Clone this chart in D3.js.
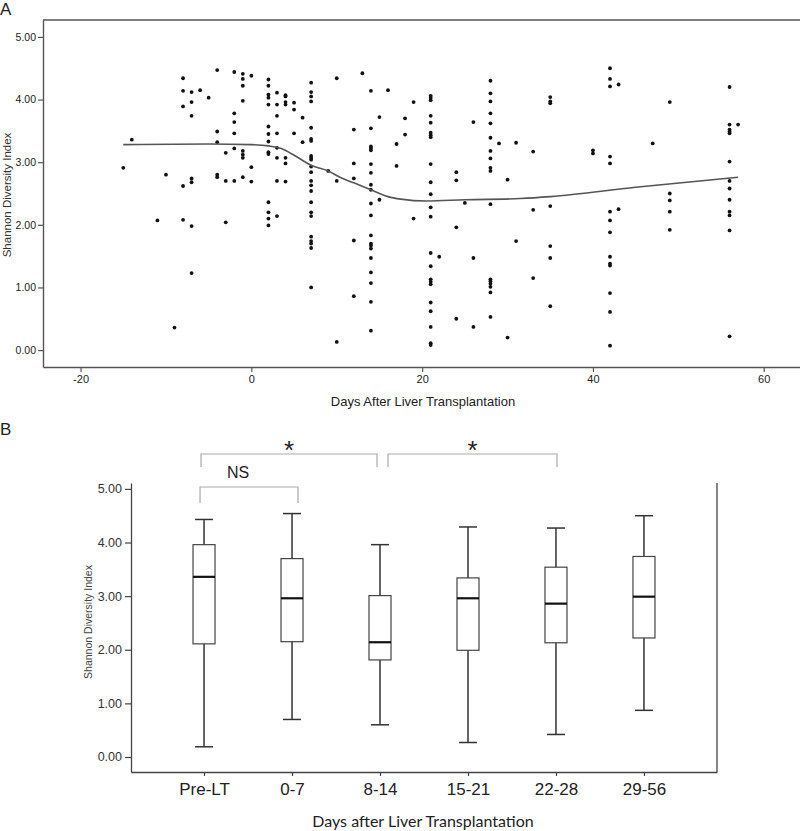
<!DOCTYPE html>
<html><head><meta charset="utf-8">
<script src="https://cdn.jsdelivr.net/npm/d3@7/dist/d3.min.js"></script>
<style>body{margin:0;background:#fff} svg{display:block}</style>
</head><body>
<svg id="c" width="800" height="831"></svg>
<script>
// ---------- Panel A data ----------
const scatterDays = [-15,-14,-11,-10,-9,-8,-7,-6,-5,-4,-3,-2,-1,0,2,3,4,5,6,7,9,10,12,13,14,15,16,17,18,19,21,22,24,25,26,28,29,30,31,33,35,40,42,43,47,49,56,57];
const scatterValues = [
  [2.91],[3.36],[2.07],[2.80],[0.36],
  [4.34,4.14,3.89,2.62,2.08],
  [4.12,3.96,3.74,2.74,2.68,1.98,1.23],
  [4.15],[4.03],
  [4.47,3.49,3.32,2.80,2.76],
  [3.15,2.70,2.04],
  [4.44,3.78,3.64,3.46,3.22,2.70],
  [4.41,4.33,4.22,3.98,3.18,3.12,3.07,2.76],
  [4.38,2.92,2.69],
  [4.32,4.22,4.08,4.03,3.92,3.57,3.45,3.33,3.16,3.13,2.36,2.20,2.10,1.99],
  [4.11,3.92,3.74,3.46,3.23,3.07,2.70,2.14],
  [4.07,4.05,3.96,3.92,3.07,2.98,2.69],
  [3.95,3.84,3.46],
  [3.71,3.32],
  [4.27,4.12,4.05,3.97,3.55,3.37,3.34,3.10,3.07,3.04,2.93,2.84,2.70,2.63,2.54,2.36,2.20,2.14,1.81,1.74,1.70,1.63,1.00],
  [2.86],
  [4.34,2.70,0.13],
  [3.52,2.98,2.74,1.75,0.86],
  [4.42],
  [4.14,3.54,3.25,3.22,3.19,2.97,2.83,2.64,2.56,2.34,2.15,1.83,1.70,1.67,1.62,1.47,1.24,1.07,0.77,0.31],
  [3.72,2.40],
  [4.15],
  [3.29,2.94],
  [3.70,3.44],
  [3.96,2.10],
  [4.06,4.03,3.99,3.74,3.63,3.47,3.43,3.40,2.97,2.68,2.49,2.28,2.13,1.55,1.34,1.13,1.09,1.05,0.76,0.62,0.37,0.11,0.08],
  [1.49],
  [2.84,2.71,1.96,0.50],
  [2.35],
  [3.64,1.47,0.37],
  [4.30,4.10,3.97,3.78,3.62,3.39,3.18,3.06,2.91,2.86,2.33,1.13,1.10,1.06,1.01,0.92,0.53],
  [3.30],
  [2.72,0.20],
  [3.31,1.74],
  [3.17,2.24,1.15],
  [4.04,3.97,3.94,2.30,1.66,1.47,0.70],
  [3.19,3.14],
  [4.50,4.33,4.21,3.09,2.98,2.21,2.07,1.88,1.49,1.38,1.35,0.91,0.61,0.07],
  [4.24,2.25],
  [3.30],
  [3.96,2.50,2.39,2.21,1.92],
  [4.20,3.60,3.52,3.49,3.46,3.01,2.70,2.58,2.40,2.21,2.15,1.91,0.22],
  [3.60]
];
const loessDays   = [-15,-5,0,2,3.5,5.5,7,9,10.5,12,14,16,17.5,20.5,25,31.5,35,45,57];
const loessValues = [3.28,3.29,3.28,3.26,3.22,3.07,2.95,2.86,2.75,2.67,2.56,2.45,2.41,2.38,2.40,2.42,2.45,2.60,2.76];
const xTicksA = [-20,0,20,40,60];
const yTicksA = [0,1,2,3,4,5];

// ---------- Panel B data ----------
const boxCategories   = ["Pre-LT","0-7","8-14","15-21","22-28","29-56"];
const boxLowerWhisker = [0.19,0.70,0.60,0.27,0.42,0.87];
const boxQ1           = [2.11,2.15,1.81,1.99,2.13,2.22];
const boxMedian       = [3.36,2.96,2.14,2.96,2.86,2.99];
const boxQ3           = [3.96,3.70,3.01,3.34,3.54,3.74];
const boxUpperWhisker = [4.43,4.54,3.96,4.29,4.27,4.50];
const yTicksB = [0,1,2,3,4,5];
const compFrom   = ["Pre-LT","8-14","Pre-LT"];
const compTo     = ["8-14","22-28","0-7"];
const compLabels = ["*","*","NS"];

// ---------- layout ----------
const svg = d3.select("#c");
const narrow = "'Liberation Sans Narrow','Arial Narrow','Liberation Sans',sans-serif";
const sans = "'Liberation Sans',Arial,sans-serif";
const axisCol = "#444";
const hyphenFmt = d => String(d);

// Panel A
const xA = d3.scaleLinear().domain([-24.4, 64.6]).range([43, 803]);
const yA = d3.scaleLinear().domain([-0.27, 5.27]).range([367, 20]);
const gA = svg.append("g");

svg.append("text").attr("x",0).attr("y",15).attr("font-family",sans).attr("font-size",17).attr("fill","#222").text("A");

gA.append("line").attr("x1",xA.range()[0]).attr("x2",800).attr("y1",yA.range()[1]).attr("y2",yA.range()[1])
  .attr("stroke","#555").attr("stroke-width",1.4);

const axA_x = gA.append("g").attr("transform",`translate(0,${yA.range()[0]})`)
  .call(d3.axisBottom(xA).tickValues(xTicksA).tickSize(5).tickSizeOuter(0).tickFormat(hyphenFmt));
const axA_y = gA.append("g").attr("transform",`translate(${xA.range()[0]},0)`)
  .call(d3.axisLeft(yA).tickValues(yTicksA).tickSize(5).tickSizeOuter(0).tickFormat(d3.format(".2f")));
[axA_x, axA_y].forEach(a=>{
  a.select(".domain").attr("stroke","#555").attr("stroke-width",1.4);
  a.selectAll(".tick line").attr("stroke","#555").attr("stroke-width",1.2);
  a.selectAll(".tick text").attr("font-family",narrow).attr("font-size",11).attr("fill","#222");
});
axA_y.selectAll(".tick text").attr("x",-7).attr("font-size",10.5);
axA_x.selectAll(".tick text").attr("y",8);

gA.append("text").attr("x",423).attr("y",406).attr("text-anchor","middle")
  .attr("font-family",narrow).attr("font-size",13).attr("fill","#222").text("Days After Liver Transplantation");
gA.append("text").attr("transform","translate(11,195) rotate(-90)").attr("text-anchor","middle")
  .attr("font-family",sans).attr("font-size",11.5).attr("fill","#333").text("Shannon Diversity Index");

const pts = [];
scatterDays.forEach((d,i)=>scatterValues[i].forEach(v=>pts.push([d,v])));
gA.append("g").selectAll("circle").data(pts).join("circle")
  .attr("cx",d=>xA(d[0])).attr("cy",d=>yA(d[1])).attr("r",1.9).attr("fill","#111");

const loessPts = loessDays.map((d,i)=>[d, loessValues[i]]);
gA.append("path").datum(loessPts)
  .attr("d", d3.line().x(d=>xA(d[0])).y(d=>yA(d[1])).curve(d3.curveMonotoneX))
  .attr("fill","none").attr("stroke","#555").attr("stroke-width",1.6);

// Panel B
svg.append("text").attr("x",0).attr("y",435).attr("font-family",sans).attr("font-size",17).attr("fill","#222").text("B");
const xB = d3.scalePoint().domain(boxCategories).range([131, 717]).padding(0.83);
const yB = d3.scaleLinear().domain([-0.28, 5.11]).range([772, 483]);
const gB = svg.append("g");

const axB_x = gB.append("g").attr("transform",`translate(0,${yB.range()[0]})`)
  .call(d3.axisBottom(xB).tickSize(4).tickSizeOuter(0));
const axB_y = gB.append("g").attr("transform",`translate(${xB.range()[0]},0)`)
  .call(d3.axisLeft(yB).tickValues(yTicksB).tickSize(6).tickSizeOuter(0).tickFormat(d3.format(".2f")));
[axB_x, axB_y].forEach(a=>{
  a.select(".domain").attr("stroke",axisCol).attr("stroke-width",1.3);
  a.selectAll(".tick line").attr("stroke",axisCol).attr("stroke-width",1.2);
});
axB_y.selectAll(".tick text").attr("font-family",sans).attr("font-size",12.5).attr("fill","#333").attr("x",-9);
axB_x.selectAll(".tick text").attr("font-family",sans).attr("font-size",17).attr("fill","#222").attr("y",11);
gB.append("line").attr("x1",xB.range()[1]).attr("x2",xB.range()[1]).attr("y1",yB.range()[1]).attr("y2",yB.range()[0])
  .attr("stroke",axisCol).attr("stroke-width",1.3);

gB.append("text").attr("transform","translate(92,622) rotate(-90)").attr("text-anchor","middle")
  .attr("font-family",sans).attr("font-size",10.5).attr("fill","#444").text("Shannon Diversity Index");
gB.append("text").attr("x",423).attr("y",827).attr("text-anchor","middle")
  .attr("font-family","Lato,'Open Sans',sans-serif").attr("font-size",16).attr("fill","#222").text("Days after Liver Transplantation");

const boxW = 22, capW = 18;
const boxes = gB.append("g").selectAll("g").data(boxCategories).join("g");
boxes.append("line").attr("x1",c=>xB(c)).attr("x2",c=>xB(c))
  .attr("y1",(c,i)=>yB(boxUpperWhisker[i])).attr("y2",(c,i)=>yB(boxLowerWhisker[i]))
  .attr("stroke","#333").attr("stroke-width",1.5);
boxes.append("line").attr("x1",c=>xB(c)-capW/2).attr("x2",c=>xB(c)+capW/2)
  .attr("y1",(c,i)=>yB(boxUpperWhisker[i])).attr("y2",(c,i)=>yB(boxUpperWhisker[i]))
  .attr("stroke","#333").attr("stroke-width",1.5);
boxes.append("line").attr("x1",c=>xB(c)-capW/2).attr("x2",c=>xB(c)+capW/2)
  .attr("y1",(c,i)=>yB(boxLowerWhisker[i])).attr("y2",(c,i)=>yB(boxLowerWhisker[i]))
  .attr("stroke","#333").attr("stroke-width",1.5);
boxes.append("rect").attr("x",c=>xB(c)-boxW/2).attr("width",boxW)
  .attr("y",(c,i)=>yB(boxQ3[i])).attr("height",(c,i)=>yB(boxQ1[i])-yB(boxQ3[i]))
  .attr("fill","#fff").attr("stroke","#444").attr("stroke-width",1.2);
boxes.append("line").attr("x1",c=>xB(c)-boxW/2).attr("x2",c=>xB(c)+boxW/2)
  .attr("y1",(c,i)=>yB(boxMedian[i])).attr("y2",(c,i)=>yB(boxMedian[i]))
  .attr("stroke","#111").attr("stroke-width",2.2);

// significance brackets (layout: offsets, heights, label placement)
const brLayout = [
  {dx1:-3, dx2:-3, top:454, bot:467, ty:459, fs:26, tdx:0},
  {dx1:8,  dx2:1,  top:454, bot:467, ty:459, fs:26, tdx:0},
  {dx1:-4, dx2:6,  top:487, bot:503, ty:478, fs:16, tdx:-11}
];
compLabels.forEach((lab,i)=>{
  const L = brLayout[i];
  const x1 = xB(compFrom[i])+L.dx1, x2 = xB(compTo[i])+L.dx2;
  gB.append("path").attr("d",`M${x1},${L.bot}V${L.top}H${x2}V${L.bot}`)
    .attr("fill","none").attr("stroke","#aaa").attr("stroke-width",1.2);
  gB.append("text").attr("x",(x1+x2)/2 + L.tdx).attr("y",L.ty).attr("text-anchor","middle")
    .attr("font-family",sans).attr("font-size",L.fs).attr("fill","#222").text(lab);
});
</script>
</body></html>
